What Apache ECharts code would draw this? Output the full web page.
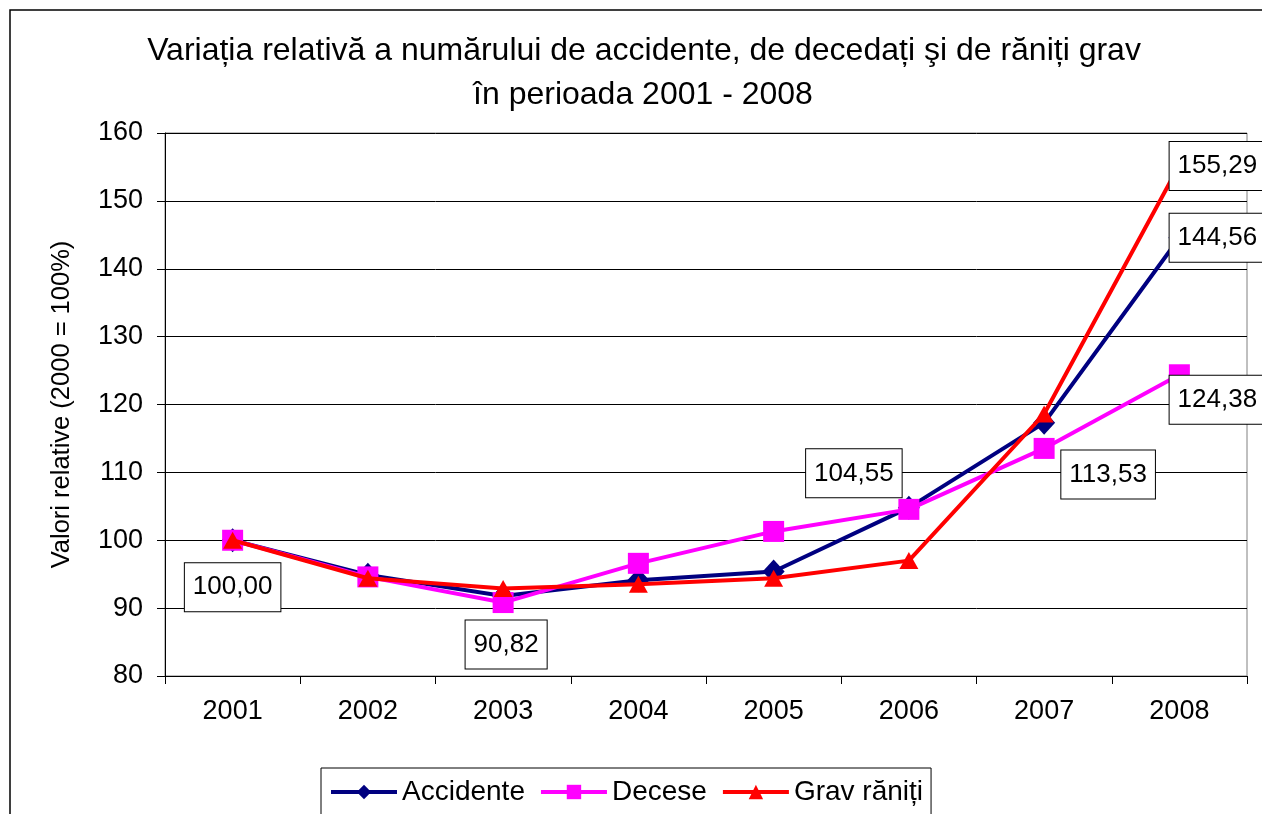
<!DOCTYPE html>
<html>
<head>
<meta charset="utf-8">
<script src="https://cdn.jsdelivr.net/npm/echarts@6/dist/echarts.min.js"></script>
<style>html,body{margin:0;padding:0;background:#fff;}#c{width:1262px;height:814px;}</style>
</head>
<body>
<div id="c"></div>
<script>
const categories = ['2001','2002','2003','2004','2005','2006','2007','2008'];
const accidente = [100.00, 94.9, 91.8, 94.1, 95.4, 104.8, 117.3, 144.56];
const decese = [100.00, 94.6, 90.82, 96.6, 101.3, 104.55, 113.53, 124.38];
const gravRaniti = [100.00, 94.4, 92.9, 93.5, 94.4, 97.0, 118.6, 155.29];
const yTicks = [80, 90, 100, 110, 120, 130, 140, 150, 160];
const seriesNames = ['Accidente', 'Decese', 'Grav răniți'];
const titleLines = ['Variația relativă a numărului de accidente, de decedați şi de răniți grav', 'în perioada 2001 - 2008'];

// label placements (index -> offset) per series
const labelOffsets = {
  0: {7: [38, 0]},
  1: {0: [0, 47], 2: [3, 42], 5: [-55, -36], 6: [64, 26], 7: [38, 25]},
  2: {7: [38, 1]}
};
const ff = 'Liberation Sans, Arial, sans-serif';
const fmt = v => v.toFixed(2).replace('.', ',');
function buildData(values, si) {
  return values.map((v, i) => {
    const off = labelOffsets[si][i];
    if (!off) return v;
    return {
      value: v,
      label: {
        show: true, position: 'inside', offset: off,
        formatter: p => fmt(p.value),
        color: '#000', fontSize: 26, fontFamily: ff,
        backgroundColor: '#fff', borderColor: '#000', borderWidth: 1,
        padding: [12, 8, 10, 8], align: 'center', verticalAlign: 'middle'
      }
    };
  });
}

const chart = echarts.init(document.getElementById('c'), null, {renderer: 'canvas'});
chart.setOption({
  backgroundColor: '#fff',
  animation: false,
  graphic: [{
    type: 'rect', z: -10, silent: true,
    shape: {x: 10, y: 10, width: 1400, height: 1000},
    style: {fill: 'none', stroke: '#000', lineWidth: 1.5}
  }],
  title: [
    {text: titleLines[0], left: 639, textAlign: 'center', top: 30,
     textStyle: {fontFamily: ff, fontSize: 32, fontWeight: 'normal', color: '#000'}},
    {text: titleLines[1], left: 638, textAlign: 'center', top: 74,
     textStyle: {fontFamily: ff, fontSize: 32, fontWeight: 'normal', color: '#000'}}
  ],
  legend: {
    data: seriesNames,
    left: 321, top: 768,
    borderColor: '#000', borderWidth: 1, padding: [10, 8, 12, 8],
    itemWidth: 66, itemHeight: 18, itemGap: 14,
    lineStyle: {width: 4},
    textStyle: {fontFamily: ff, fontSize: 28, color: '#000', padding: [0, 0, 0, 0]}
  },
  grid: {left: 165, right: 15, top: 133, bottom: 138, show: true, borderColor: '#808080', borderWidth: 1, backgroundColor: '#fff'},
  xAxis: {
    type: 'category', data: categories, boundaryGap: true,
    axisLine: {lineStyle: {color: '#000', width: 1}},
    axisTick: {show: true, length: 8, inside: false, lineStyle: {color: '#000'}},
    axisLabel: {fontFamily: ff, fontSize: 27, color: '#000', margin: 22},
    splitLine: {show: false}
  },
  yAxis: {
    type: 'value', min: 80, max: 160, interval: 10,
    name: 'Valori relative (2000 = 100%)', nameLocation: 'middle', nameGap: 90, nameRotate: 90,
    nameTextStyle: {fontFamily: ff, fontSize: 25.5, color: '#000'},
    axisLine: {show: true, lineStyle: {color: '#000', width: 1}},
    axisTick: {show: true, length: 8, lineStyle: {color: '#000'}},
    axisLabel: {fontFamily: ff, fontSize: 27, color: '#000', margin: 22,
      customValues: yTicks},
    splitLine: {show: true, lineStyle: {color: '#000', width: 1}}
  },
  series: [
    {name: seriesNames[0], type: 'line', data: buildData(accidente, 0),
     color: '#000080', lineStyle: {width: 4, color: '#000080'},
     symbol: 'diamond', symbolSize: [22, 24], itemStyle: {color: '#000080'}, z: 2},
    {name: seriesNames[1], type: 'line', data: buildData(decese, 1),
     color: '#ff00ff', lineStyle: {width: 4, color: '#ff00ff'},
     symbol: 'rect', symbolSize: 21, itemStyle: {color: '#ff00ff'}, z: 3},
    {name: seriesNames[2], type: 'line', data: buildData(gravRaniti, 2),
     color: '#ff0000', lineStyle: {width: 4, color: '#ff0000'},
     symbol: 'triangle', symbolSize: [19, 17], itemStyle: {color: '#ff0000'}, z: 4}
  ]
});
</script>
</body>
</html>
